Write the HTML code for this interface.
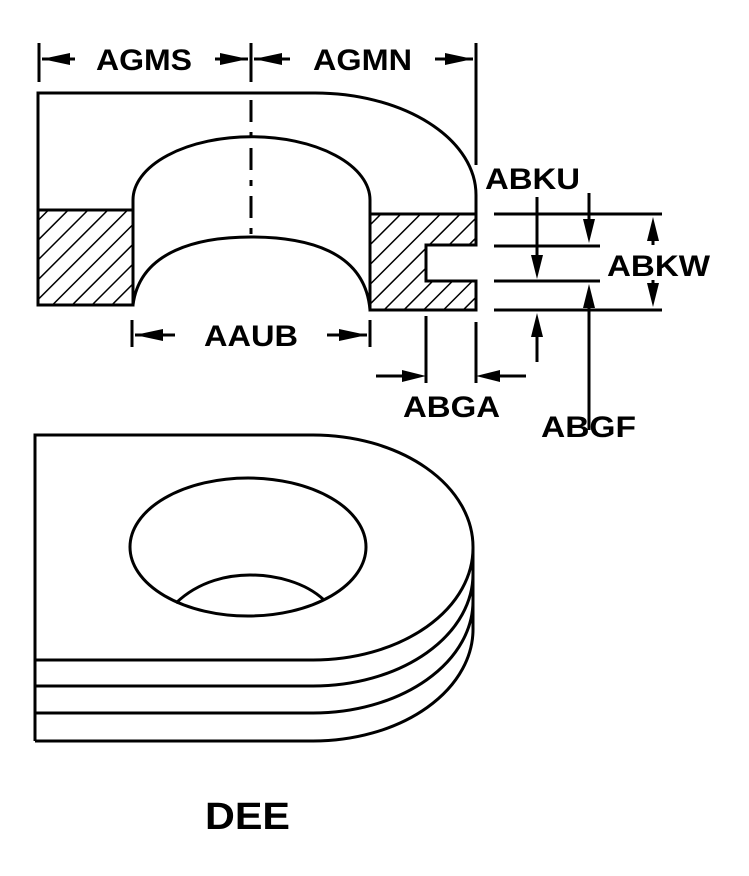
<!DOCTYPE html>
<html><head><style>
html,body{margin:0;padding:0;background:#fff;}
svg{display:block;}
text{font-family:"Liberation Sans",Arial,sans-serif;font-weight:bold;fill:#000;}
</style></head><body>
<svg width="749" height="876" viewBox="0 0 749 876" xmlns="http://www.w3.org/2000/svg">
<defs>
<pattern id="h" patternUnits="userSpaceOnUse" width="14" height="14" patternTransform="rotate(45)">
<line x1="0" y1="0" x2="0" y2="14" stroke="#000" stroke-width="3"/>
</pattern>
</defs>
<g fill="none" stroke="#000" stroke-width="3">
<line x1="39" y1="43" x2="39" y2="82"/>
<line x1="251" y1="43" x2="251" y2="82"/>
<line x1="476" y1="43" x2="476" y2="165"/>
<line x1="42" y1="59" x2="75" y2="59"/>
<line x1="215" y1="59" x2="248" y2="59"/>
<line x1="254" y1="59" x2="290" y2="59"/>
<line x1="435" y1="59" x2="473" y2="59"/>
<path d="M38 210 L38 93 L315 93 A161 102 0 0 1 476 195 L476 214"/>
<path d="M133 210 L133 200 A118 63 0 0 1 370 200 L370 214"/>
<line x1="251" y1="100" x2="251" y2="278" stroke-dasharray="22,10,6,10"/>
</g>
<path d="M38 210 L133 210 L133 305 L38 305 Z" fill="url(#h)" stroke="#000" stroke-width="3"/>
<path d="M370 214 L476 214 L476 245 L426 245 L426 281 L476 281 L476 310 L370 310 Z" fill="url(#h)" stroke="#000" stroke-width="3"/>
<path d="M133 305 Q133 237 251 237 Q370 237 370 310 L370 214 L370 310 Z" fill="#fff" stroke="none"/>
<path d="M133 305 C140 250 200 237 251 237 C305 237 365 250 370 310" fill="none" stroke="#000" stroke-width="3"/>
<line x1="133" y1="210" x2="133" y2="305" stroke="#000" stroke-width="3"/>
<line x1="370" y1="214" x2="370" y2="310" stroke="#000" stroke-width="3"/>
<g stroke="#000" stroke-width="3" fill="none">
<line x1="132" y1="320" x2="132" y2="347"/>
<line x1="370" y1="320" x2="370" y2="347"/>
<line x1="135" y1="335" x2="175" y2="335"/>
<line x1="327" y1="335" x2="367" y2="335"/>
<line x1="494" y1="214" x2="662" y2="214"/>
<line x1="494" y1="246" x2="600" y2="246"/>
<line x1="494" y1="281" x2="600" y2="281"/>
<line x1="494" y1="310" x2="662" y2="310"/>
<line x1="537" y1="197" x2="537" y2="262"/>
<line x1="589" y1="193" x2="589" y2="226"/>
<line x1="589" y1="300" x2="589" y2="430"/>
<line x1="537" y1="330" x2="537" y2="362"/>
<line x1="653" y1="235" x2="653" y2="245"/>
<line x1="653" y1="280" x2="653" y2="290"/>
<line x1="426" y1="316" x2="426" y2="383"/>
<line x1="476" y1="322" x2="476" y2="383"/>
<line x1="376" y1="376" x2="410" y2="376"/>
<line x1="492" y1="376" x2="526" y2="376"/>
</g>
<g fill="#000">
<polygon points="42,59 70,53 70,65"/>
<polygon points="248,59 220,53 220,65"/>
<polygon points="254,59 282,53 282,65"/>
<polygon points="473,59 445,53 445,65"/>
<polygon points="135,335 163,329 163,341"/>
<polygon points="367,335 339,329 339,341"/>
<polygon points="537,279 531,255 543,255"/>
<polygon points="589,243 583,219 595,219"/>
<polygon points="589,284 583,308 595,308"/>
<polygon points="537,313 531,337 543,337"/>
<polygon points="653,217 647,241 659,241"/>
<polygon points="653,307 647,283 659,283"/>
<polygon points="426,376 402,370 402,382"/>
<polygon points="476,376 500,370 500,382"/>
</g>
<g font-size="30" lengthAdjust="spacingAndGlyphs">
<text x="96" y="70" textLength="96" lengthAdjust="spacingAndGlyphs">AGMS</text>
<text x="313" y="70" textLength="99" lengthAdjust="spacingAndGlyphs">AGMN</text>
<text x="204" y="346" textLength="94" lengthAdjust="spacingAndGlyphs">AAUB</text>
<text x="485" y="189" textLength="95" lengthAdjust="spacingAndGlyphs">ABKU</text>
<text x="607" y="276" textLength="103" lengthAdjust="spacingAndGlyphs">ABKW</text>
<text x="403" y="417" textLength="97" lengthAdjust="spacingAndGlyphs">ABGA</text>
<text x="541" y="437" textLength="95" lengthAdjust="spacingAndGlyphs">ABGF</text>
<text x="205" y="829" font-size="38" textLength="85" lengthAdjust="spacingAndGlyphs">DEE</text>
</g>
<g fill="none" stroke="#000" stroke-width="3">
<path d="M35 660 L35 435 L313 435 A160 112 0 0 1 473 547 A160 112 0 0 1 313 660 L35 660"/>
<path d="M35 686 L313 686 A160 112 0 0 0 473 573"/>
<path d="M35 713 L313 713 A160 112 0 0 0 473 600"/>
<path d="M35 741 L313 741 A160 112 0 0 0 473 627"/>
<line x1="35" y1="660" x2="35" y2="741"/>
<line x1="473" y1="547" x2="473" y2="627"/>
<ellipse cx="248" cy="547" rx="118" ry="69"/>
<path d="M176 603 C200 580 230 575 250 575 C275 575 305 582 324 600"/>
</g>
</svg>
</body></html>
